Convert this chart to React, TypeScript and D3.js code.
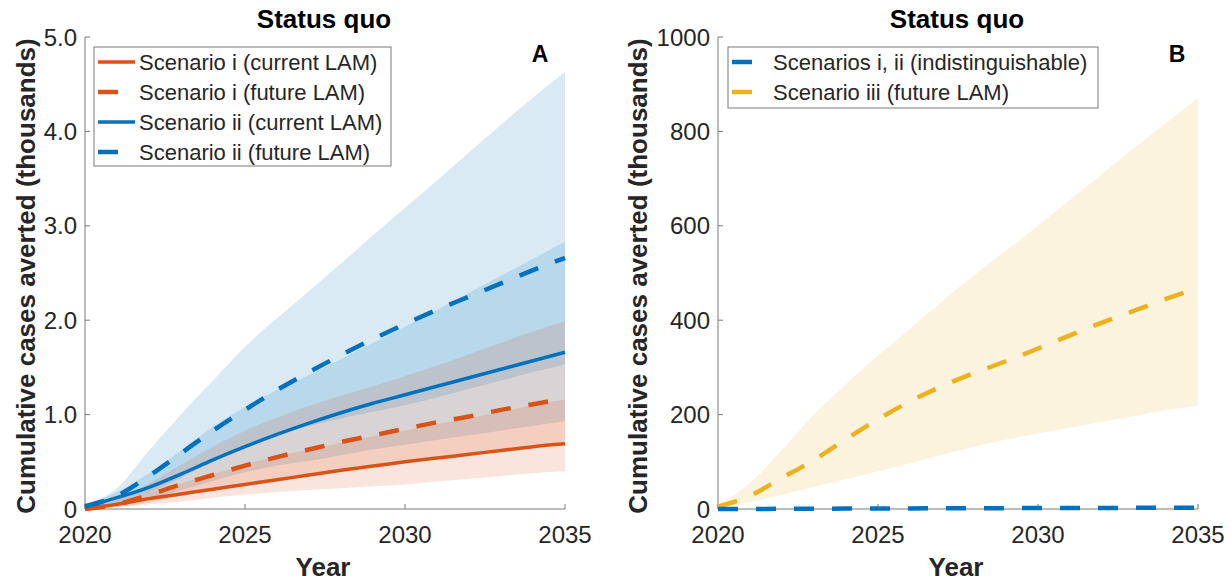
import React from 'react';
import * as d3 from 'd3';

const years = [2020, 2021, 2022, 2023, 2024, 2025, 2026, 2027, 2028, 2029, 2030, 2031, 2032, 2033, 2034, 2035];

// Panel A (thousands)
const iCur = [0, 0.05, 0.11, 0.16, 0.21, 0.26, 0.31, 0.36, 0.41, 0.455, 0.5, 0.54, 0.58, 0.62, 0.66, 0.69];
const iCurLo = [0, 0.02, 0.05, 0.08, 0.12, 0.15, 0.18, 0.2, 0.22, 0.24, 0.26, 0.29, 0.32, 0.35, 0.38, 0.4];
const iCurHi = [0, 0.07, 0.17, 0.27, 0.37, 0.47, 0.56, 0.63, 0.7, 0.77, 0.83, 0.9, 0.96, 1.03, 1.1, 1.16];

const iFut = [0, 0.05, 0.15, 0.26, 0.36, 0.46, 0.55, 0.63, 0.71, 0.78, 0.85, 0.92, 0.98, 1.05, 1.11, 1.17];
const iFutLo = [0, 0.02, 0.07, 0.14, 0.21, 0.27, 0.32, 0.37, 0.41, 0.45, 0.49, 0.53, 0.57, 0.61, 0.66, 0.7];
const iFutHi = [0, 0.1, 0.27, 0.47, 0.66, 0.83, 0.97, 1.09, 1.2, 1.3, 1.41, 1.52, 1.64, 1.76, 1.88, 1.99];

const iiCur = [0.02, 0.12, 0.23, 0.37, 0.52, 0.66, 0.79, 0.91, 1.02, 1.12, 1.21, 1.3, 1.39, 1.48, 1.57, 1.66];
const iiCurLo = [0.01, 0.05, 0.11, 0.2, 0.3, 0.39, 0.46, 0.51, 0.57, 0.63, 0.68, 0.73, 0.78, 0.83, 0.88, 0.93];
const iiCurHi = [0.04, 0.18, 0.38, 0.62, 0.87, 1.08, 1.26, 1.42, 1.59, 1.76, 1.93, 2.11, 2.29, 2.47, 2.65, 2.83];

const iiFut = [0.03, 0.14, 0.35, 0.59, 0.83, 1.05, 1.26, 1.45, 1.63, 1.8, 1.96, 2.11, 2.25, 2.39, 2.53, 2.66];
const iiFutLo = [0.02, 0.07, 0.17, 0.33, 0.5, 0.65, 0.78, 0.88, 0.96, 1.03, 1.1, 1.18, 1.27, 1.36, 1.45, 1.53];
const iiFutHi = [0.05, 0.22, 0.62, 1.0, 1.36, 1.72, 2.02, 2.31, 2.6, 2.9, 3.19, 3.48, 3.78, 4.07, 4.36, 4.63];

// Panel B (thousands)
const iiiFut = [5, 28, 66, 104, 148, 190, 228, 260, 288, 313, 340, 368, 395, 420, 445, 468];
const iiiLo = [3, 15, 30, 47, 63, 80, 97, 115, 132, 147, 160, 172, 185, 197, 209, 220];
const iiiHi = [8, 55, 125, 200, 265, 325, 382, 440, 495, 548, 600, 655, 710, 765, 818, 870];
const iAndIiB = [0.03, 0.14, 0.35, 0.59, 0.83, 1.05, 1.26, 1.45, 1.63, 1.8, 1.96, 2.11, 2.25, 2.39, 2.53, 2.66];

const xTicks = [2020, 2025, 2030, 2035];
const yTicksA = [0, 1, 2, 3, 4, 5];
const yTickLabelsA = ['0', '1.0', '2.0', '3.0', '4.0', '5.0'];
const yTicksB = [0, 200, 400, 600, 800, 1000];
const yTickLabelsB = ['0', '200', '400', '600', '800', '1000'];

const legendA = ['Scenario i (current LAM)', 'Scenario i (future LAM)', 'Scenario ii (current LAM)', 'Scenario ii (future LAM)'];
const legendB = ['Scenarios i, ii (indistinguishable)', 'Scenario iii (future LAM)'];

const BLUE = '#0072BD';
const ORANGE = '#D95319';
const YELLOW = '#EDB120';
const FONT = '"Liberation Sans", Arial, Helvetica, sans-serif';
const AXIS = '#7a7a7a';
const TXT = '#262626';
const DASH = '20 18';

type Series = { vals: number[]; color: string; dashed: boolean };

function Panel({ left, right, top, bottom, yMax, yTicks, yLabels, series, bands, title, letter, letterX, legend, legendBox, legendSeries, yLabelX }: any) {
  const x = d3.scaleLinear().domain([2020, 2035]).range([left, right]);
  const y = d3.scaleLinear().domain([0, yMax]).range([bottom, top]);
  const curve = d3.curveMonotoneX;
  const area = (lo: number[], hi: number[]) =>
    d3.area<number>().x((_, i) => x(years[i])).y0((_, i) => y(lo[i])).y1((_, i) => y(hi[i])).curve(curve)(years) || '';
  const line = (v: number[]) => d3.line<number>().x((_, i) => x(years[i])).y((_, i) => y(v[i])).curve(curve)(years) || '';
  const cx = (left + right) / 2;
  const [lbx0, lby0, lbx1, lby1] = legendBox;
  return (
    <g>
      {bands.map((b: any, i: number) => (
        <path key={'b' + i} d={area(b.lo, b.hi)} fill={b.color} fillOpacity={0.15} stroke="none" />
      ))}
      <line x1={left} x2={left} y1={top} y2={bottom} stroke={AXIS} strokeWidth={1} />
      <line x1={left} x2={right} y1={bottom} y2={bottom} stroke={AXIS} strokeWidth={1} />
      {yTicks.map((t: number, i: number) => (
        <g key={'yt' + i}>
          <line x1={left} x2={left + 5} y1={y(t)} y2={y(t)} stroke={AXIS} />
          <text x={left - 8} y={y(t)} textAnchor="end" dominantBaseline="central" fontSize={24} fill={TXT} fontFamily={FONT}>{yLabels[i]}</text>
        </g>
      ))}
      {xTicks.map((t: number, i: number) => (
        <g key={'xt' + i}>
          <line x1={x(t)} x2={x(t)} y1={bottom} y2={bottom - 5} stroke={AXIS} />
          <text x={x(t)} y={543} textAnchor="middle" fontSize={24} fill={TXT} fontFamily={FONT}>{t}</text>
        </g>
      ))}
      {series.map((s: Series, i: number) => (
        <path key={'s' + i} d={line(s.vals)} fill="none" stroke={s.color} strokeWidth={s.dashed ? 4.5 : 3.5} strokeDasharray={s.dashed ? DASH : undefined} />
      ))}
      <text x={cx - 1} y={28} textAnchor="middle" fontSize={26} fontWeight="bold" fill="#000" fontFamily={FONT}>{title}</text>
      <text x={letterX} y={62} textAnchor="middle" fontSize={23} fontWeight="bold" fill="#000" fontFamily={FONT}>{letter}</text>
      <text x={cx - 2} y={576} textAnchor="middle" fontSize={26} fontWeight="bold" fill={TXT} fontFamily={FONT}>Year</text>
      <text transform={`translate(${yLabelX},276) rotate(-90)`} textAnchor="middle" dominantBaseline="central" fontSize={26} fontWeight="bold" fill={TXT} fontFamily={FONT}>Cumulative cases averted (thousands)</text>
      <rect x={lbx0} y={lby0} width={lbx1 - lbx0} height={lby1 - lby0} fill="#fff" stroke={AXIS} strokeWidth={1} />
      {legend.map((l: string, i: number) => {
        const ly = lby0 + 15 + i * 30;
        const s = legendSeries[i];
        return (
          <g key={'l' + i}>
            <line x1={lbx0 + 4} x2={lbx0 + 41} y1={ly} y2={ly} stroke={s.color} strokeWidth={s.dashed ? 4.5 : 3.5} strokeDasharray={s.dashed ? DASH : undefined} />
            <text x={lbx0 + 45} y={ly} dominantBaseline="central" fontSize={22} fill={TXT} fontFamily={FONT}>{l}</text>
          </g>
        );
      })}
    </g>
  );
}

export default function App() {
  const seriesA: Series[] = [
    { vals: iCur, color: ORANGE, dashed: false },
    { vals: iFut, color: ORANGE, dashed: true },
    { vals: iiCur, color: BLUE, dashed: false },
    { vals: iiFut, color: BLUE, dashed: true },
  ];
  const bandsA = [
    { lo: iiFutLo, hi: iiFutHi, color: BLUE },
    { lo: iiCurLo, hi: iiCurHi, color: BLUE },
    { lo: iFutLo, hi: iFutHi, color: ORANGE },
    { lo: iCurLo, hi: iCurHi, color: ORANGE },
  ];
  const seriesB: Series[] = [
    { vals: iiiFut, color: YELLOW, dashed: true },
    { vals: iAndIiB, color: BLUE, dashed: true },
  ];
  const bandsB = [{ lo: iiiLo, hi: iiiHi, color: YELLOW }];
  return (
    <svg width={1231} height={583} style={{ position: 'absolute', left: 0, top: 0, background: '#fff' }}>
      <rect x={0} y={0} width={1231} height={583} fill="#fff" />
      <Panel left={85} right={565} top={37} bottom={509} yMax={5} yTicks={yTicksA} yLabels={yTickLabelsA}
        series={seriesA} bands={bandsA} title="Status quo" letter="A" letterX={540} yLabelX={26}
        legend={legendA} legendBox={[94, 47, 391, 166]} legendSeries={seriesA} />
      <Panel left={718} right={1198} top={37} bottom={509} yMax={1000} yTicks={yTicksB} yLabels={yTickLabelsB}
        series={seriesB} bands={bandsB} title="Status quo" letter="B" letterX={1177} yLabelX={638}
        legend={legendB} legendBox={[728, 47, 1098, 108]} legendSeries={[seriesB[1], seriesB[0]]} />
    </svg>
  );
}
